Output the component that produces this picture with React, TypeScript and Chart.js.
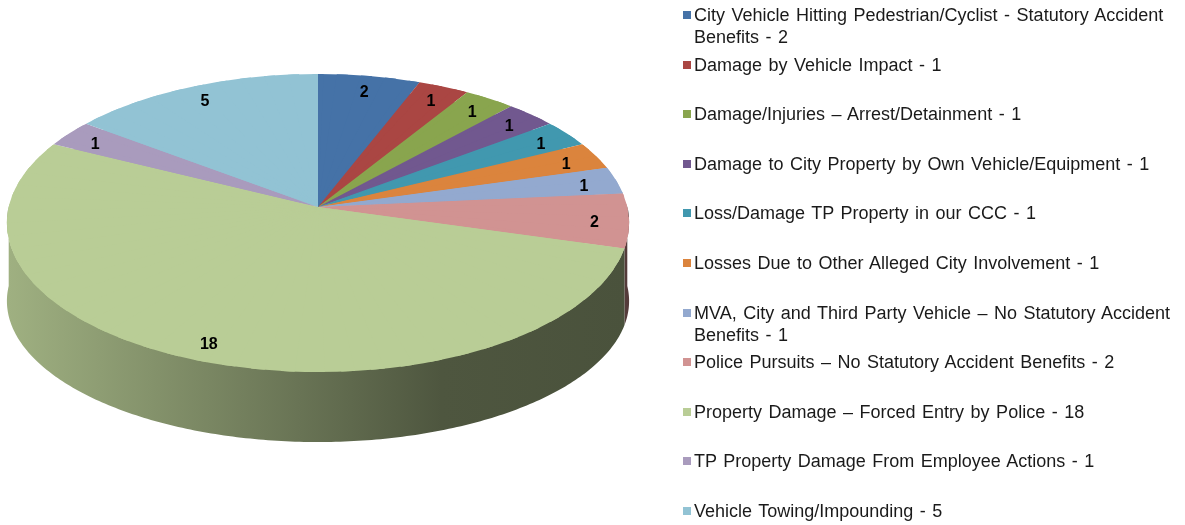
import React, { useEffect, useRef } from "react";
import { Chart, registerables } from "chart.js";

Chart.register(...registerables);

const categories = [
  "City Vehicle Hitting Pedestrian/Cyclist - Statutory Accident Benefits",
  "Damage by Vehicle Impact",
  "Damage/Injuries \u2013 Arrest/Detainment",
  "Damage to City Property by Own Vehicle/Equipment",
  "Loss/Damage TP Property in our CCC",
  "Losses Due to Other Alleged City Involvement",
  "MVA, City and Third Party Vehicle \u2013 No Statutory Accident Benefits",
  "Police Pursuits \u2013 No Statutory Accident Benefits",
  "Property Damage \u2013 Forced Entry by Police",
  "TP Property Damage From Employee Actions",
  "Vehicle Towing/Impounding",
];
const values = [2, 1, 1, 1, 1, 1, 1, 2, 18, 1, 5];
const colors = [
  "#4572A7",
  "#AA4643",
  "#89A54E",
  "#71588F",
  "#4198AF",
  "#DB843D",
  "#93A9CF",
  "#D19392",
  "#B9CD96",
  "#A99BBD",
  "#92C3D4",
];

const W = 1185;
const H = 525;
// perspective projection of the pie disk
const AX = 318; // apex (pie centre) on screen
const AY = 207;
const PA = 309.3; // horizontal scale
const PB = 147.3; // vertical scale
const PQ = -0.1074; // perspective factor
const LABEL_F = 0.89;
const SECTORS = 72;

function hexToRgb(h: string) {
  const n = parseInt(h.slice(1), 16);
  return [(n >> 16) & 255, (n >> 8) & 255, n & 255];
}
function shade(h: string, f: number) {
  const [r, g, b] = hexToRgb(h);
  return `rgb(${Math.round(r * f)},${Math.round(g * f)},${Math.round(b * f)})`;
}
function proj(c: number, s: number, f = 1) {
  const w = 1 + PQ * s * f;
  return [AX + (PA * c * f) / w, AY + (PB * s * f) / w];
}
function depthAt(s: number) {
  return 79 - 9 * Math.max(0, s);
}

const pie3dPlugin = {
  id: "pie3d",
  beforeDatasetsDraw(chart: any) {
    const ctx: CanvasRenderingContext2D = chart.ctx;
    const meta = chart.getDatasetMeta(0);
    const arcs = meta.data as any[];
    if (!arcs.length) return false;
    const cx0 = arcs[0].x;
    const cy0 = arcs[0].y;
    const R = arcs[0].outerRadius;

    // side walls (front half: canvas angle 0..PI)
    arcs.forEach((arc: any) => {
      const segs: [number, number][] = [];
      const s = arc.startAngle;
      const e = arc.endAngle;
      for (const off of [0, 2 * Math.PI, -2 * Math.PI]) {
        const a0 = Math.max(s + off, 0);
        const a1 = Math.min(e + off, Math.PI);
        if (a1 > a0) segs.push([a0, a1]);
      }
      const col = arc.options.backgroundColor as string;
      segs.forEach(([a0, a1]) => {
        const grad = ctx.createLinearGradient(AX - PA, 0, AX + PA, 0);
        grad.addColorStop(0, shade(col, 0.86));
        grad.addColorStop(0.7, shade(col, 0.42));
        grad.addColorStop(1, shade(col, 0.4));
        ctx.beginPath();
        const steps = Math.max(4, Math.ceil(((a1 - a0) / Math.PI) * 240));
        for (let k = 0; k <= steps; k++) {
          const a = a0 + ((a1 - a0) * k) / steps;
          const [x, y] = proj(Math.cos(a), Math.sin(a));
          if (k === 0) ctx.moveTo(x, y - 1);
          else ctx.lineTo(x, y - 1);
        }
        for (let k = steps; k >= 0; k--) {
          const a = a0 + ((a1 - a0) * k) / steps;
          const [x, y] = proj(Math.cos(a), Math.sin(a));
          ctx.lineTo(x, y + depthAt(Math.sin(a)));
        }
        ctx.closePath();
        ctx.fillStyle = grad;
        ctx.fill();
      });
    });

    // base layer (inside the outline) to hide seams near the apex
    ctx.save();
    ctx.transform(
      (PA * 0.9) / R,
      0,
      0,
      120 / R,
      AX - (PA * 0.9 * cx0) / R,
      AY - (120 * cy0) / R
    );
    arcs.forEach((arc: any) => arc.draw(ctx));
    ctx.restore();

    // top face: piecewise-affine approximation of the perspective projection
    for (let k = 0; k < SECTORS; k++) {
      const a0 = -Math.PI / 2 + (2 * Math.PI * k) / SECTORS;
      const a1 = a0 + (2 * Math.PI) / SECTORS;
      const u0x = Math.cos(a0), u0y = Math.sin(a0);
      const u1x = Math.cos(a1), u1y = Math.sin(a1);
      const p0 = proj(u0x, u0y);
      const p1 = proj(u1x, u1y);
      const h0x = p0[0] - AX, h0y = p0[1] - AY;
      const h1x = p1[0] - AX, h1y = p1[1] - AY;
      const det = u0x * u1y - u1x * u0y;
      const L11 = (h0x * u1y - h1x * u0y) / det;
      const L12 = (-h0x * u1x + h1x * u0x) / det;
      const L21 = (h0y * u1y - h1y * u0y) / det;
      const L22 = (-h0y * u1x + h1y * u0x) / det;
      const mapDir = (a: number, sc: number) => [
        AX + sc * (L11 * Math.cos(a) + L12 * Math.sin(a)),
        AY + sc * (L21 * Math.cos(a) + L22 * Math.sin(a)),
      ];
      const d = 0.02;
      const pts = [
        [AX, AY],
        mapDir(a0 - d, 3),
        mapDir((a0 + a1) / 2, 3),
        mapDir(a1 + d, 3),
      ];
      ctx.save();
      ctx.beginPath();
      pts.forEach(([x, y], i) => (i === 0 ? ctx.moveTo(x, y) : ctx.lineTo(x, y)));
      ctx.closePath();
      ctx.clip();
      ctx.transform(
        L11 / R,
        L21 / R,
        L12 / R,
        L22 / R,
        AX - (L11 * cx0 + L12 * cy0) / R,
        AY - (L21 * cx0 + L22 * cy0) / R
      );
      arcs.forEach((arc: any) => arc.draw(ctx));
      ctx.restore();
    }

    // data labels
    const data = chart.data.datasets[0].data as number[];
    ctx.save();
    ctx.font = "bold 16px 'Liberation Sans', Arial, sans-serif";
    ctx.fillStyle = "#000";
    ctx.textAlign = "center";
    ctx.textBaseline = "middle";
    arcs.forEach((arc: any, i: number) => {
      const m = (arc.startAngle + arc.endAngle) / 2;
      const [x, y] = proj(Math.cos(m), Math.sin(m), LABEL_F);
      ctx.fillText(String(data[i]), x, y + 3);
    });
    ctx.restore();
    return false;
  },
};

export default function App() {
  const ref = useRef<HTMLCanvasElement>(null);
  useEffect(() => {
    if (!ref.current) return;
    const chart = new Chart(ref.current, {
      type: "pie",
      data: {
        labels: categories,
        datasets: [
          {
            data: values,
            backgroundColor: colors,
            borderWidth: 0,
            hoverOffset: 0,
          },
        ],
      },
      options: {
        responsive: false,
        animation: false,
        events: [],
        layout: { padding: 0 },
        plugins: {
          legend: { display: false },
          tooltip: { enabled: false },
        },
      },
      plugins: [pie3dPlugin],
    });
    return () => chart.destroy();
  }, []);

  return (
    <div
      style={{
        position: "absolute",
        left: 0,
        top: 0,
        width: W,
        height: H,
        background: "#fff",
        overflow: "hidden",
      }}
    >
      <canvas ref={ref} width={W} height={H} style={{ position: "absolute", left: 0, top: 0 }} />
      {categories.map((c, i) => (
        <div
          key={i}
          style={{
            position: "absolute",
            left: 683,
            top: 15 + 49.6 * i - 11,
            width: 502,
            fontFamily: "'Liberation Sans', Arial, sans-serif",
            fontSize: 18,
            lineHeight: "22px",
            color: "#1a1a1a",
          }}
        >
          <span
            style={{
              position: "absolute",
              left: 0,
              top: 7,
              width: 8,
              height: 8,
              background: colors[i],
            }}
          />
          <div style={{ marginLeft: 11, width: 491, wordSpacing: 1.5 }}>
            {`${c} - ${values[i]}`}
          </div>
        </div>
      ))}
    </div>
  );
}
